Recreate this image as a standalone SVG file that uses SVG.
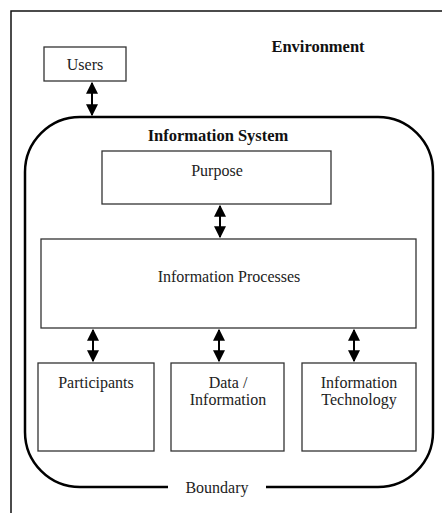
<svg xmlns="http://www.w3.org/2000/svg" width="442" height="513" viewBox="0 0 442 513">
<style>
text{font-family:'Liberation Serif','DejaVu Serif',serif;font-size:16px;fill:#222;text-anchor:middle}
.box{fill:#fff;stroke:#333;stroke-width:1.3}
.b{font-weight:bold;font-size:16.5px;fill:#111}
.c{stroke:#000;stroke-width:2;fill:none}
</style>
<defs>
<marker id="ah" viewBox="0 0 10 10" refX="9" refY="5" markerWidth="6" markerHeight="6" markerUnits="strokeWidth" orient="auto-start-reverse"><path d="M0,0 L10,5 L0,10 z" fill="#000"/></marker>
</defs>
<rect width="442" height="513" fill="#fff"/>
<path d="M11,513 V11 H442" fill="none" stroke="#111" stroke-width="1.5"/>
<g id="environment"><text class="b" x="318" y="52">Environment</text></g>
<g id="boundary">
<path d="M168,487 H80 A55,55 0 0 1 25,432 V172 A55,55 0 0 1 80,117 H378 A55,55 0 0 1 433,172 V432 A55,55 0 0 1 378,487 H266" fill="none" stroke="#000" stroke-width="2.5"/>
<text x="217" y="493">Boundary</text>
<text class="b" x="218" y="141">Information System</text>
</g>
<g id="users"><rect class="box" x="44" y="47" width="82" height="34"/><text x="85" y="70">Users</text></g>
<g id="purpose"><rect class="box" x="102" y="151" width="229" height="53"/><text x="217" y="176">Purpose</text></g>
<g id="processes"><rect class="box" x="41" y="239" width="375" height="89"/><text x="229" y="282">Information Processes</text></g>
<g id="participants"><rect class="box" x="38" y="363" width="116" height="88"/><text x="96" y="388">Participants</text></g>
<g id="data"><rect class="box" x="171" y="363" width="113" height="88"/><text x="228" y="388">Data /</text><text x="228" y="405">Information</text></g>
<g id="technology"><rect class="box" x="302" y="363" width="114" height="88"/><text x="359" y="388">Information</text><text x="359" y="405">Technology</text></g>
<g id="connectors">
<line class="c" x1="92" y1="83" x2="92" y2="115" marker-start="url(#ah)" marker-end="url(#ah)"/>
<line class="c" x1="220" y1="206" x2="220" y2="237" marker-start="url(#ah)" marker-end="url(#ah)"/>
<line class="c" x1="93" y1="330" x2="93" y2="361" marker-start="url(#ah)" marker-end="url(#ah)"/>
<line class="c" x1="219" y1="330" x2="219" y2="361" marker-start="url(#ah)" marker-end="url(#ah)"/>
<line class="c" x1="354" y1="330" x2="354" y2="361" marker-start="url(#ah)" marker-end="url(#ah)"/>
</g>
</svg>
